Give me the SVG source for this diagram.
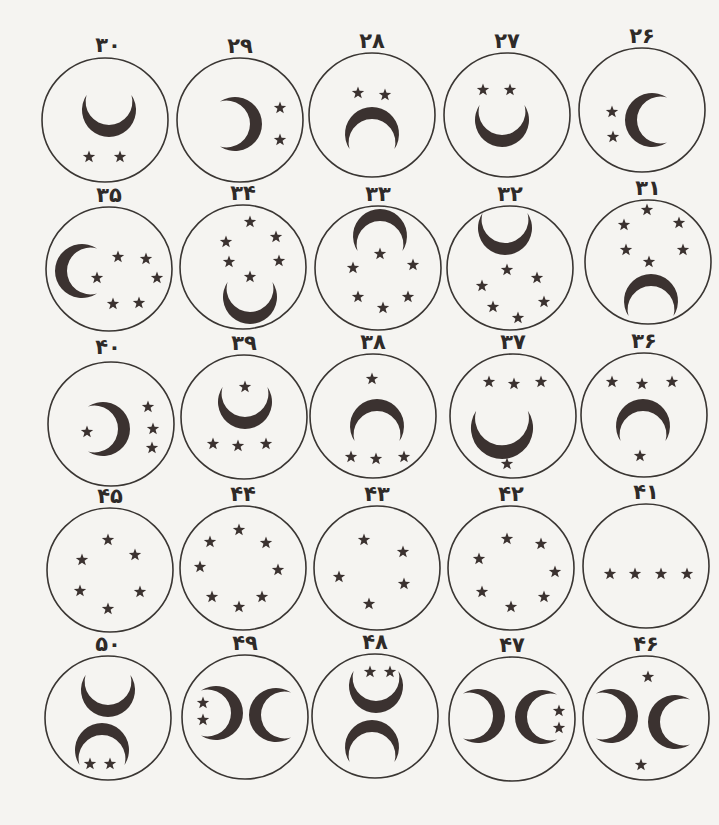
<svg xmlns="http://www.w3.org/2000/svg" xmlns:xlink="http://www.w3.org/1999/xlink" width="719" height="825" viewBox="0 0 719 825">
<style>
.ring{fill:none;stroke:#3a3633;stroke-width:1.6}
.ink{fill:#3b3230}
.lbl{font-family:"DejaVu Sans",sans-serif;font-size:21px;font-weight:bold;fill:#2e2a28;text-anchor:middle}
</style>
<defs>
<path id="c" d="M-22.45,-15 A27,27 0 1 0 22.45,-15 A23.4,23.4 0 1 1 -22.45,-15Z"/>
<path id="s" d="M0,-6.5 L1.59,-2.18 L6.18,-2.01 L2.57,0.83 L3.82,5.26 L0,2.7 L-3.82,5.26 L-2.57,0.83 L-6.18,-2.01 L-1.59,-2.18Z"/>
</defs>
<rect width="719" height="825" fill="#f5f4f1"/>
<g class="ink">
<g id="n30"><text class="lbl" x="108" y="52">۳۰</text><ellipse class="ring" cx="105" cy="120" rx="63" ry="62"/><use href="#c" transform="translate(109,110)"/><use href="#s" x="89" y="157"/><use href="#s" x="120" y="157"/></g>
<g id="n29"><text class="lbl" x="240" y="53">۲۹</text><ellipse class="ring" cx="240" cy="120" rx="63" ry="62"/><use href="#c" transform="translate(235,124) rotate(-90)"/><use href="#s" x="280" y="108"/><use href="#s" x="280" y="140"/></g>
<g id="n28"><text class="lbl" x="372" y="48">۲۸</text><ellipse class="ring" cx="372" cy="115" rx="63" ry="62"/><use href="#c" transform="translate(372,134) rotate(180)"/><use href="#s" x="358" y="93"/><use href="#s" x="385" y="95"/></g>
<g id="n27"><text class="lbl" x="507" y="48">۲۷</text><ellipse class="ring" cx="507" cy="115" rx="63" ry="62"/><use href="#c" transform="translate(502,120)"/><use href="#s" x="483" y="90"/><use href="#s" x="510" y="90"/></g>
<g id="n26"><text class="lbl" x="642" y="43">۲۶</text><ellipse class="ring" cx="642" cy="110" rx="63" ry="62"/><use href="#c" transform="translate(652,120) rotate(90)"/><use href="#s" x="612" y="112"/><use href="#s" x="613" y="137"/></g>

<g id="n35"><text class="lbl" x="109" y="202">۳۵</text><ellipse class="ring" cx="109" cy="269" rx="63" ry="62"/><use href="#c" transform="translate(82,271) rotate(90)"/><use href="#s" x="118" y="257"/><use href="#s" x="146" y="259"/><use href="#s" x="97" y="278"/><use href="#s" x="157" y="278"/><use href="#s" x="113" y="304"/><use href="#s" x="139" y="303"/></g>
<g id="n34"><text class="lbl" x="243" y="200">۳۴</text><ellipse class="ring" cx="243" cy="267" rx="63" ry="62"/><use href="#c" transform="translate(250,297)"/><use href="#s" x="250" y="222"/><use href="#s" x="226" y="242"/><use href="#s" x="276" y="237"/><use href="#s" x="229" y="262"/><use href="#s" x="279" y="261"/><use href="#s" x="250" y="277"/></g>
<g id="n33"><text class="lbl" x="378" y="201">۳۳</text><ellipse class="ring" cx="378" cy="268" rx="63" ry="62"/><use href="#c" transform="translate(380,236) rotate(180)"/><use href="#s" x="380" y="254"/><use href="#s" x="353" y="268"/><use href="#s" x="413" y="265"/><use href="#s" x="358" y="297"/><use href="#s" x="408" y="297"/><use href="#s" x="383" y="308"/></g>
<g id="n32"><text class="lbl" x="510" y="201">۳۲</text><ellipse class="ring" cx="510" cy="268" rx="63" ry="62"/><use href="#c" transform="translate(505,228)"/><use href="#s" x="507" y="270"/><use href="#s" x="482" y="286"/><use href="#s" x="537" y="278"/><use href="#s" x="493" y="307"/><use href="#s" x="544" y="302"/><use href="#s" x="518" y="318"/></g>
<g id="n31"><text class="lbl" x="648" y="195">۳۱</text><ellipse class="ring" cx="648" cy="262" rx="63" ry="62"/><use href="#c" transform="translate(651,301) rotate(180)"/><use href="#s" x="647" y="210"/><use href="#s" x="624" y="225"/><use href="#s" x="679" y="223"/><use href="#s" x="626" y="250"/><use href="#s" x="683" y="250"/><use href="#s" x="649" y="262"/></g>

<g id="n40"><text class="lbl" x="108" y="354">۴۰</text><ellipse class="ring" cx="111" cy="424" rx="63" ry="62"/><use href="#c" transform="translate(103,429) rotate(-90)"/><use href="#s" x="87" y="432"/><use href="#s" x="148" y="407"/><use href="#s" x="153" y="429"/><use href="#s" x="152" y="448"/></g>
<g id="n39"><text class="lbl" x="244" y="350">۳۹</text><ellipse class="ring" cx="244" cy="417" rx="63" ry="62"/><use href="#c" transform="translate(245,402)"/><use href="#s" x="245" y="387"/><use href="#s" x="213" y="444"/><use href="#s" x="238" y="446"/><use href="#s" x="266" y="444"/></g>
<g id="n38"><text class="lbl" x="373" y="349">۳۸</text><ellipse class="ring" cx="373" cy="416" rx="63" ry="62"/><use href="#c" transform="translate(377,426) rotate(180)"/><use href="#s" x="372" y="379"/><use href="#s" x="351" y="457"/><use href="#s" x="376" y="459"/><use href="#s" x="404" y="457"/></g>
<g id="n37"><text class="lbl" x="513" y="349">۳۷</text><ellipse class="ring" cx="513" cy="416" rx="63" ry="62"/><use href="#c" transform="translate(502,428) scale(1.15)"/><use href="#s" x="489" y="382"/><use href="#s" x="514" y="384"/><use href="#s" x="541" y="382"/><use href="#s" x="507" y="464"/></g>
<g id="n36"><text class="lbl" x="644" y="348">۳۶</text><ellipse class="ring" cx="644" cy="415" rx="63" ry="62"/><use href="#c" transform="translate(643,426) rotate(180)"/><use href="#s" x="612" y="382"/><use href="#s" x="642" y="384"/><use href="#s" x="672" y="382"/><use href="#s" x="640" y="456"/></g>

<g id="n45"><text class="lbl" x="110" y="503">۴۵</text><ellipse class="ring" cx="110" cy="570" rx="63" ry="62"/><use href="#s" x="108" y="540"/><use href="#s" x="82" y="560"/><use href="#s" x="135" y="555"/><use href="#s" x="80" y="591"/><use href="#s" x="140" y="592"/><use href="#s" x="108" y="609"/></g>
<g id="n44"><text class="lbl" x="243" y="501">۴۴</text><ellipse class="ring" cx="243" cy="568" rx="63" ry="62"/><use href="#s" x="239" y="530"/><use href="#s" x="210" y="542"/><use href="#s" x="266" y="543"/><use href="#s" x="200" y="567"/><use href="#s" x="278" y="570"/><use href="#s" x="212" y="597"/><use href="#s" x="262" y="597"/><use href="#s" x="239" y="607"/></g>
<g id="n43"><text class="lbl" x="377" y="501">۴۳</text><ellipse class="ring" cx="377" cy="568" rx="63" ry="62"/><use href="#s" x="364" y="540"/><use href="#s" x="403" y="552"/><use href="#s" x="339" y="577"/><use href="#s" x="404" y="584"/><use href="#s" x="369" y="604"/></g>
<g id="n42"><text class="lbl" x="511" y="501">۴۲</text><ellipse class="ring" cx="511" cy="568" rx="63" ry="62"/><use href="#s" x="507" y="539"/><use href="#s" x="541" y="544"/><use href="#s" x="479" y="559"/><use href="#s" x="555" y="572"/><use href="#s" x="482" y="592"/><use href="#s" x="544" y="597"/><use href="#s" x="511" y="607"/></g>
<g id="n41"><text class="lbl" x="646" y="499">۴۱</text><ellipse class="ring" cx="646" cy="566" rx="63" ry="62"/><use href="#s" x="610" y="574"/><use href="#s" x="635" y="574"/><use href="#s" x="661" y="574"/><use href="#s" x="687" y="574"/></g>

<g id="n50"><text class="lbl" x="108" y="651">۵۰</text><ellipse class="ring" cx="108" cy="718" rx="63" ry="62"/><use href="#c" transform="translate(108,690)"/><use href="#c" transform="translate(102,750) rotate(180)"/><use href="#s" x="90" y="764"/><use href="#s" x="110" y="764"/></g>
<g id="n49"><text class="lbl" x="245" y="650">۴۹</text><ellipse class="ring" cx="245" cy="717" rx="63" ry="62"/><use href="#c" transform="translate(216,713) rotate(-90)"/><use href="#c" transform="translate(276,715) rotate(90)"/><use href="#s" x="203" y="703"/><use href="#s" x="203" y="720"/></g>
<g id="n48"><text class="lbl" x="375" y="649">۴۸</text><ellipse class="ring" cx="375" cy="716" rx="63" ry="62"/><use href="#c" transform="translate(376,686)"/><use href="#c" transform="translate(372,747) rotate(180)"/><use href="#s" x="370" y="672"/><use href="#s" x="390" y="672"/></g>
<g id="n47"><text class="lbl" x="512" y="652">۴۷</text><ellipse class="ring" cx="512" cy="719" rx="63" ry="62"/><use href="#c" transform="translate(478,716) rotate(-90)"/><use href="#c" transform="translate(542,717) rotate(90)"/><use href="#s" x="559" y="711"/><use href="#s" x="559" y="728"/></g>
<g id="n46"><text class="lbl" x="646" y="651">۴۶</text><ellipse class="ring" cx="646" cy="718" rx="63" ry="62"/><use href="#c" transform="translate(611,716) rotate(-90)"/><use href="#c" transform="translate(675,722) rotate(90)"/><use href="#s" x="648" y="677"/><use href="#s" x="641" y="765"/></g>
</g>
</svg>
